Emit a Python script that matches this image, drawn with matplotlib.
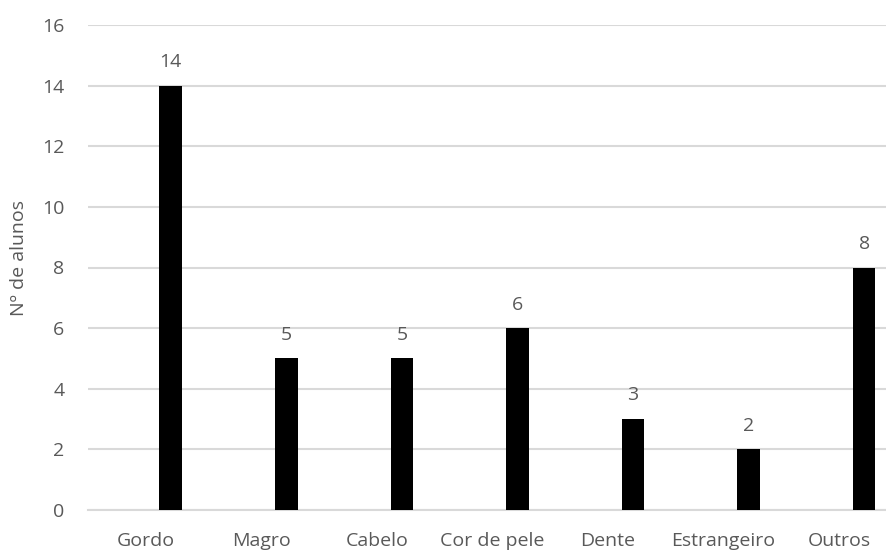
import matplotlib.pyplot as plt
import numpy as np

categorias = ["Gordo", "Magro", "Cabelo", "Cor de pele", "Dente", "Estrangeiro", "Outros"]
alunos = [14, 5, 5, 6, 3, 2, 8]

plt.rcParams['font.family'] = ['Open Sans', 'DejaVu Sans']
cinza = "#595959"
fs = 14

fig = plt.figure(figsize=(8.86, 5.51), dpi=100)
# plot area runs a little past the right edge of the figure
ax = fig.add_axes([88 / 886, 41 / 551, 809 / 886, 485 / 551])

x = np.arange(len(categorias))
ax.bar(x + 0.216, alunos, width=0.195, color="black", zorder=3)

for xi, v in zip(x, alunos):
    ax.annotate(str(v), (xi + 0.216, v), xytext=(0, 10.5), textcoords="offset points",
                ha="center", va="bottom", fontsize=fs, color=cinza)

ax.set_xlim(-0.5, len(categorias) - 0.5)
ax.set_ylim(0, 16)
ax.set_yticks(range(0, 17, 2))
ax.set_xticks(x)
ax.set_xticklabels(categorias)
ax.tick_params(axis="both", length=0, labelsize=fs, colors=cinza)
ax.tick_params(axis="x", pad=16)
ax.tick_params(axis="y", pad=17)

ax.grid(axis="y", color="#d9d9d9", linewidth=1.5, zorder=0)
for s in ["top", "right", "left"]:
    ax.spines[s].set_visible(False)
ax.spines["bottom"].set_color("#d9d9d9")
ax.spines["bottom"].set_linewidth(1.5)

ax.set_ylabel("Nº de alunos", fontsize=fs, color=cinza)
ax.yaxis.set_label_coords(-60 / 809, 0.52)

fig.savefig("out.png", dpi=100)
